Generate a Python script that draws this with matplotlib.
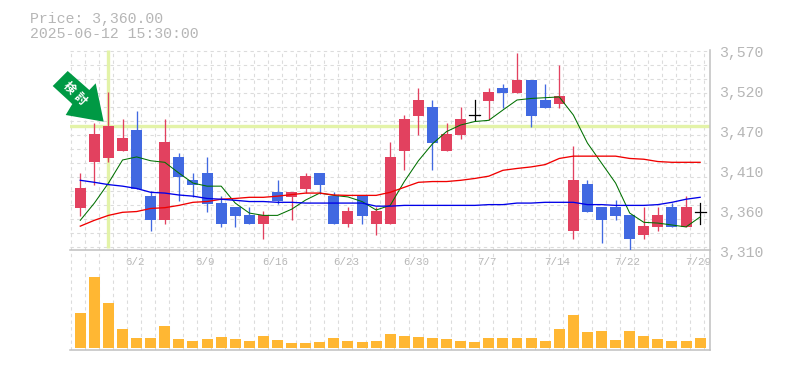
import matplotlib
matplotlib.use("Agg")
import matplotlib.pyplot as plt
from matplotlib.patches import Polygon, Rectangle
from matplotlib.transforms import Affine2D, IdentityTransform

body_top = [3391,3461,3471,3456,3466,3380,3450,3431,3401,3410,3371,3366,3355.5,3355.5,3385,3385,
            3406,3410,3380,3361,3380,3361,3431,3480,3505,3496,3461,3480,3485,3515,3521,3531,
            3531,3505,3510,3401,3396,3366,3366,3355.5,3341,3355.5,3366,3366,3360]
body_bot = [3365,3424,3430,3439,3389,3349,3349,3405,3394,3370,3344,3354,3344,3344,3374,3379,
            3389,3394.5,3344,3344,3354,3344,3344,3439,3484,3449,3439,3460,3485,3504,3514,3514,
            3484,3495,3500,3335,3359,3349,3354,3324,3329.5,3340,3340,3340,3360]
high = [3410,3475,3515,3480,3491,3387,3480,3436,3410,3431,3380,3366,3366,3361,3401,3385,
        3410,3410,3385,3366,3380,3366,3450,3485.5,3521,3505,3475,3496,3505,3521,3526,3566,
        3531,3526,3550.5,3445,3401,3366,3375,3355.5,3366,3366,3371,3380,3371]
low = [3354,3394,3424,3439,3389,3335,3344,3374,3379,3359,3340,3340,3344,3324,3370,3349,
       3384,3383,3344,3340,3344,3330,3344,3414,3459.5,3414,3439,3454,3479,3479,3495,3514,
       3470,3495,3495,3324,3359,3319,3349,3309,3324,3335,3340,3340,3344]
kind = list("rrrrbbrbbbbbbrbr") + list("rbbrbrrrrbrrkrbr") + list("bbrrbbbbrrbrk")

ma_green = [3348.6,3371,3397,3427,3431,3426,3424,3410,3397,3393,3393,3371,3358,3355,3355,3363,
            3375,3384,3381,3379,3373,3362,3368,3399,3426,3448,3464,3472.5,3477,3478.6,3492,3505,
            3507,3508,3509,3485.5,3449,3423,3397,3358,3346,3345,3342.5,3340,3353]
ma_red = [3341,3348.6,3355,3359,3360,3364,3365,3368,3372,3373,3376,3377,3378.5,3378.5,3380,3382,
          3384,3384,3381.5,3381,3381,3381,3385,3391.5,3398,3399,3399,3400.6,3403,3406,3413.6,3416,
          3418,3421,3429,3432,3432,3432,3432,3429,3428,3425,3424,3424,3424]
ma_blue = [3400.6,3398,3395,3393,3390,3385,3384,3381.5,3380,3377,3376,3374.6,3373,3373,3372,3372,
           3371,3371,3371,3371,3371,3367,3367,3368,3368,3368,3368,3368,3368,3369,3369,3371,
           3371,3372,3372,3372,3369,3369,3368,3368,3368,3369,3372,3376,3378.5]
volume = [35,71,45,19,10,10,22,9,7,9,11,9,7,12,8,5,5,6,10,7,6,7,14,
          12,11,10,9,7,6,10,10,10,10,7,19,33,16,17,8,17,12,9,7,7,10]
tick_idx = [4,9,14,19,24,29,34,39,44]
tick_labels = ["6/2","6/9","6/16","6/23","6/30","7/7","7/14","7/22","7/29"]
y_ticks = [3310,3362,3414,3466,3518,3570]
y_labels = ["3,310","3,360","3,410","3,470","3,520","3,570"]
marker_idx = 2
marker_price = 3470.8
title_lines = ["Price: 3,360.00", "2025-06-12 15:30:00"]

W, H = 785, 370
RED, BLUE = "#e2415f", "#4169e1"
GRID, AXC, TXT = "#dcdcdc", "#c0c0c0", "#b6b6b6"
MONO = "Liberation Mono"

fig = plt.figure(figsize=(W/100, H/100), dpi=100, facecolor="white")
def panel(x0, y0, x1, y1):
    return fig.add_axes([x0/W, 1-y1/H, (x1-x0)/W, (y1-y0)/H])
ax = panel(70, 50, 710, 250)
av = panel(70, 250, 710, 350)
n = len(volume)
xlim = (-0.73, 44.7)
px = (xlim[1]-xlim[0])/640

for a in (ax, av):
    a.set_xlim(*xlim)
    a.set_facecolor("none")
    for s in ("top", "left"):
        a.spines[s].set_visible(False)
    for s in ("right", "bottom"):
        a.spines[s].set_color(AXC)
        a.spines[s].set_linewidth(1.1)
    a.tick_params(length=0)
    a.set_yticks([])
    a.set_xticks([])
    for i in range(n):
        a.axvline(i+0.3, color=GRID, lw=0.8, ls=(0, (3, 3)), zorder=0)
    a.axvline(xlim[0]+1.2*px, color=GRID, lw=0.8, ls=(0, (3, 3)), zorder=0)

ax.set_ylim(3310, 3570)
for k in range(15):
    ax.axhline(3570 - (k*14+0.7)*1.3, color=GRID, lw=0.8, ls=(0, (3, 3)), zorder=0)

ax.axhline(marker_price, color="#e3f3a8", lw=2.4, zorder=1)
ax.plot([marker_idx, marker_idx], [3313, 3570], color="#e3f3a8", lw=2.4, zorder=1, solid_capstyle="butt")

w = 0.78
for i in range(n):
    if kind[i] == "k":
        ax.plot([i, i], [low[i], high[i]], color="black", lw=0.9, zorder=3)
        ax.plot([i-w/2, i+w/2], [body_top[i], body_top[i]], color="black", lw=0.9, zorder=3)
        continue
    c = RED if kind[i] == "r" else BLUE
    ax.plot([i, i], [low[i], high[i]], color=c, lw=0.95, zorder=3, solid_capstyle="butt")
    ax.add_patch(Rectangle((i-w/2, body_bot[i]), w, body_top[i]-body_bot[i], fc=c, ec="none", zorder=3))

xs = list(range(n))
ax.plot(xs, ma_green, color="#007000", lw=0.75, zorder=4)
ax.plot(xs, ma_red, color="#f00000", lw=0.95, zorder=4)
ax.plot(xs, ma_blue, color="#0000e8", lw=0.95, zorder=4)

av.set_ylim(-2, 98)
av.bar(xs, volume, width=w, color="#ffb733", zorder=3)

for v, s in zip(y_ticks, y_labels):
    ax.annotate(s, (1, v), xycoords=("axes fraction", "data"), xytext=(9, -3), textcoords="offset pixels",
                family=MONO, fontsize=10.7, color=TXT, ha="left", va="center", annotation_clip=False)
for i, s in zip(tick_idx, tick_labels):
    ax.annotate(s, (i, 3310), xycoords=("data", "data"), xytext=(-2, -12), textcoords="offset pixels",
                family=MONO, fontsize=7.8, color=TXT, ha="center", va="center", annotation_clip=False)

fig.text(30/W, 1-18.5/H, title_lines[0], family=MONO, fontsize=10.7, color=TXT, ha="left", va="center")
fig.text(30/W, 1-33.5/H, title_lines[1], family=MONO, fontsize=10.7, color=TXT, ha="left", va="center")

pts = [(67.7,71),(52.7,86),(72.3,104),(65.7,115),(103.7,121.7),(95.7,83.3),(89.3,90)]
T = Affine2D().scale(1, -1).translate(0, H)
fig.add_artist(Polygon([T.transform(p) for p in pts], closed=True, fc="#009944", ec="none",
                       transform=IdentityTransform()))
for (xx, yy), ch in zip([(69, 88), (80, 99)], "検討"):
    fig.text(xx/W, 1-yy/H, ch, family="Noto Sans CJK JP", fontsize=8.5, color="white", weight="bold",
             rotation=-45, ha="center", va="center", rotation_mode="anchor")

fig.savefig("out.png", dpi=100)
